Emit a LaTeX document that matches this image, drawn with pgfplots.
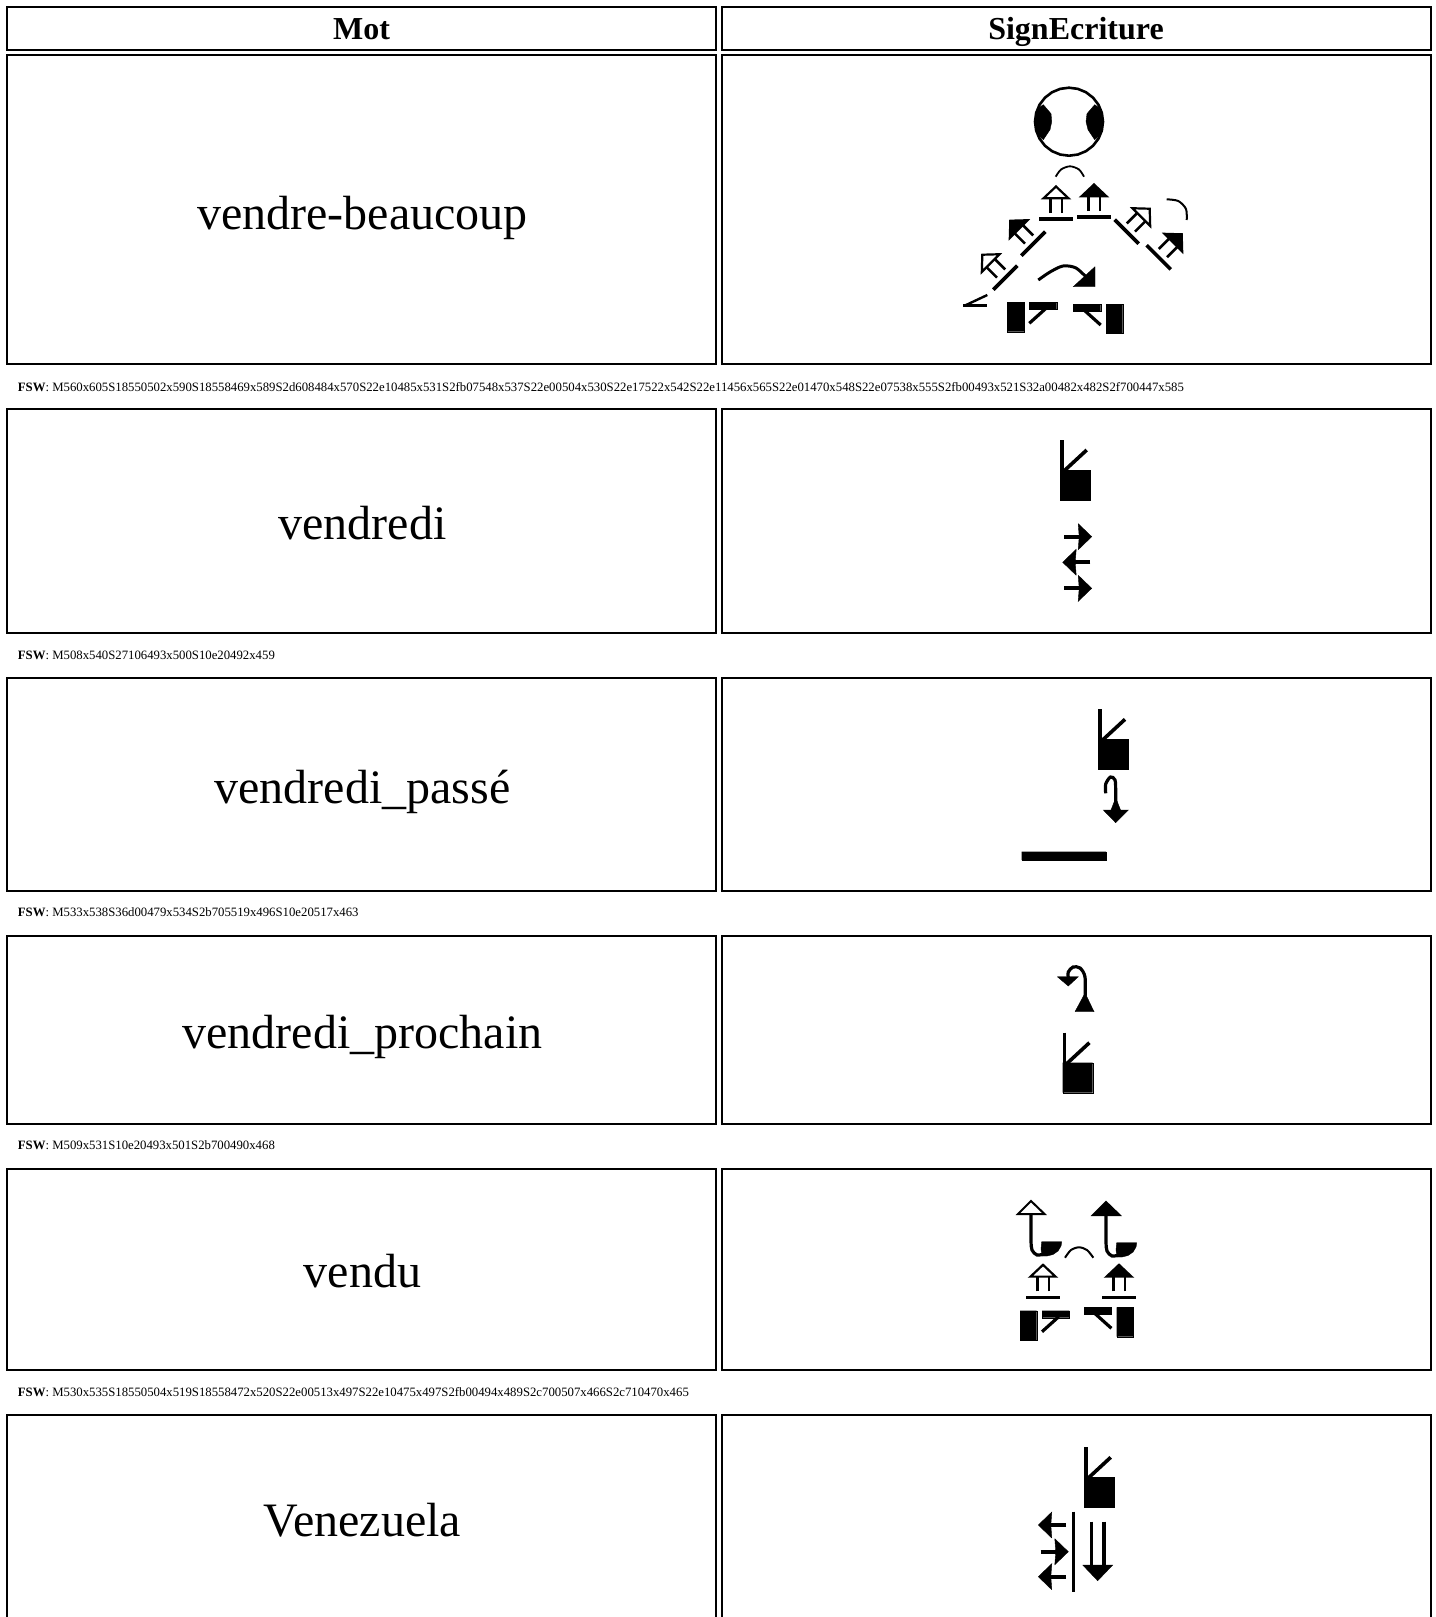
\documentclass[border=0pt]{standalone}
\usepackage{pgfplots}
\pgfplotsset{compat=1.18}
\usepackage{fontspec}
\setmainfont{Liberation Serif}
\pgfplotsset{
  T/.style n args={4}{
    x filter/.expression={#1+#4*(cos(#3)*rawx-sin(#3)*rawy)},
    y filter/.expression={#2+#4*(sin(#3)*rawx+cos(#3)*rawy)}},
  LN/.style={black,line width=#1},
  FL/.style={black,fill=black,line width=0.2pt}
}
% px = 0.5pt throughout
\newcommand{\cellbox}[4]{\addplot[LN=1pt] coordinates {(#1,#2)(#3,#2)(#3,#4)(#1,#4)(#1,#2)(#3,#2)};}
\newcommand{\rect}[4]{\addplot[FL] coordinates {(#1,#2)(#3,#2)(#3,#4)(#1,#4)(#1,#2)};}
\newcommand{\poly}[1]{\addplot[FL] coordinates {#1};}
\newcommand{\lin}[2]{\addplot[LN=#1] coordinates {#2};}
\newcommand{\curve}[2]{\addplot[LN=#1,smooth] coordinates {#2};}
% hand: upper-left corner of the square
\newcommand{\hand}[2]{%
  \addplot[FL,T={#1}{#2}{0}{1}] coordinates {(0,0)(30,0)(30,30)(0,30)(0,0)};
  \addplot[LN=1.8pt,T={#1}{#2}{0}{1}] coordinates {(1.8,-30)(1.8,0)};
  \addplot[LN=1.8pt,T={#1}{#2}{0}{1}] coordinates {(4,1)(26.7,-20)};}
% straight arrow with tip at x,y
\newcommand{\harrow}[3]{%
  \addplot[LN=1.9pt,T={#1}{#2}{#3}{1}] coordinates {(-27.7,0)(-8,0)};
  \addplot[FL,T={#1}{#2}{#3}{1}] coordinates {(-13.5,-13)(0,0)(-13.5,13)(-12.5,0)(-13.5,-13)};}
% arrow on bar, double stem
\newcommand{\barrow}[4]{%
  \addplot[LN=1.8pt,T={#1}{#2}{#3}{1}] coordinates {(-17,0)(17,0)};
  \addplot[LN=1.3pt,T={#1}{#2}{#3}{1}] coordinates {(-5.8,-6)(-5.8,-20.7)};
  \addplot[LN=1.3pt,T={#1}{#2}{#3}{1}] coordinates {(5.8,-6)(5.8,-20.7)};
  \addplot[black,fill=#4,line width=1.1pt,T={#1}{#2}{#3}{1}] coordinates {(-12.5,-20.7)(0,-32.5)(12.5,-20.7)(-12.5,-20.7)(0,-32.5)};}
% fists: upper-left corner of the rectangle
\newcommand{\fistL}[2]{%
  \addplot[FL,T={#1}{#2}{0}{1}] coordinates {(0,0)(16.7,0)(16.7,29.4)(0,29.4)(0,0)};
  \addplot[FL,T={#1}{#2}{0}{1}] coordinates {(22,0)(49.4,0)(49.4,7)(22,7)(22,0)};
  \addplot[LN=1.6pt,T={#1}{#2}{0}{1}] coordinates {(22,21)(38.7,6)};}
\newcommand{\fistR}[2]{%
  \addplot[FL,T={#1}{#2}{0}{1}] coordinates {(0,0)(16.7,0)(16.7,29.4)(0,29.4)(0,0)};
  \addplot[FL,T={#1}{#2}{0}{1}] coordinates {(-32.7,0)(-5.3,0)(-5.3,7)(-32.7,7)(-32.7,0)};
  \addplot[LN=1.6pt,T={#1}{#2}{0}{1}] coordinates {(-5.3,21)(-22,6)};}
% hook glyph of row 5
\newcommand{\hook}[3]{%
  \addplot[LN=1.6pt,smooth,T={#1}{#2}{0}{1}] coordinates {(1031,1214)(1031,1240)(1032,1250)(1037,1255)(1044,1254)};
  \addplot[black,fill=#3,line width=1pt,T={#1}{#2}{0}{1}] coordinates {(1018,1214)(1031,1201)(1044.5,1214)(1018,1214)(1031,1201)};
  \addplot[FL,T={#1}{#2}{0}{1}] coordinates {(1041.7,1241.7)(1061.7,1241.7)(1061,1246)(1058,1251)(1053,1254.5)(1047,1256)(1042,1256)(1041,1249)(1041.7,1241.7)};}
\newcommand{\word}[3]{\node[anchor=base,inner sep=0pt,font=\fontsize{24pt}{28pt}\selectfont] at (axis cs:#1,#2) {#3};}
\newcommand{\fsw}[2]{\node[anchor=base west,inner sep=0pt,font=\fontsize{6.38pt}{7pt}\selectfont] at (axis cs:17.5,#1) {\textbf{FSW}: #2};}
\begin{document}
\begin{tikzpicture}
\useasboundingbox (0,0) rectangle (717.5pt,808.5pt);
\begin{axis}[
  at={(0,0)}, anchor=south west,
  scale only axis, width=717.5pt, height=808.5pt,
  xmin=0, xmax=1435, ymin=0, ymax=1617, y dir=reverse,
  hide axis, clip=true]
% ---- table cells
\cellbox{7}{7}{716}{49.5}
\cellbox{721.5}{7}{1430.5}{49.5}
\cellbox{7}{55}{716}{364}
\cellbox{721.5}{55}{1430.5}{364}
\cellbox{7}{408.5}{716}{633}
\cellbox{721.5}{408.5}{1430.5}{633}
\cellbox{7}{677.5}{716}{890.5}
\cellbox{721.5}{677.5}{1430.5}{890.5}
\cellbox{7}{935.5}{716}{1123.5}
\cellbox{721.5}{935.5}{1430.5}{1123.5}
\cellbox{7}{1168.5}{716}{1370}
\cellbox{721.5}{1168.5}{1430.5}{1370}
\cellbox{7}{1415}{716}{1640}
\cellbox{721.5}{1415}{1430.5}{1640}
% ---- row 1 glyph
\addplot[LN=1.3pt,T={1069}{121.7}{0}{34}] coordinates {(1,0)(.966,.259)(.866,.5)(.707,.707)(.5,.866)(.259,.966)(0,1)(-.259,.966)(-.5,.866)(-.707,.707)(-.866,.5)(-.966,.259)(-1,0)(-.966,-.259)(-.866,-.5)(-.707,-.707)(-.5,-.866)(-.259,-.966)(0,-1)(.259,-.966)(.5,-.866)(.707,-.707)(.866,-.5)(.966,-.259)(1,0)(.966,.259)};
\addplot[FL,T={1069}{121.7}{0}{1}] coordinates {(-25.7,-17)(-30,-14)(-33,-8)(-34,0)(-33,8)(-30,14)(-25.7,18)(-19,8)(-17.3,0)(-18,-8)(-25.7,-17)};
\addplot[FL,T={1069}{121.7}{0}{1}] coordinates {(25.7,-17)(30,-14)(33,-8)(34,0)(33,8)(30,14)(25.7,18)(19,8)(17,0)(18,-8)(25.7,-17)};
\curve{0.9pt}{(1055.7,176.7)(1061,169.5)(1070,166.3)(1079,169.5)(1084,176.7)}
\barrow{1056}{219}{0}{white}
\barrow{1094}{217}{0}{black}
\barrow{1033.3}{243.7}{-45}{black}
\barrow{1005.3}{277.7}{-45}{white}
\barrow{1126.7}{231.7}{45}{white}
\barrow{1158.7}{257.3}{45}{black}
\curve{1pt}{(1166.7,199.3)(1178.3,201)(1186,209)(1186.7,220)}
\curve{1.5pt}{(1038.3,280)(1050,272)(1063,266)(1076,268)(1088,279)}
\poly{(1095,266.7)(1095,286.7)(1073.3,286.7)(1095,266.7)}
\lin{1.2pt}{(987.3,295)(965,305.5)}
\lin{1.8pt}{(963.3,305.5)(987.3,305.5)}
\fistL{1007.3}{302.3}
\fistR{1106}{304}
% ---- row 2 glyph
\hand{1060}{470}
\harrow{1091.7}{536.7}{0}
\harrow{1062.7}{562.3}{180}
\harrow{1091.7}{588.3}{0}
% ---- row 3 glyph
\hand{1098.3}{739.3}
\addplot[LN=1.6pt,smooth] coordinates {(1105.7,793.3)(1105.7,784)(1110.5,777)(1115,780)(1115.7,792)(1115.7,812)};
\poly{(1115.7,822.7)(1103.3,810)(1111,810)(1114.5,801)(1117,801)(1120.5,810)(1128.3,810)(1115.7,822.7)}
\rect{1021.7}{851.7}{1106}{860}
% ---- row 4 glyph
\addplot[LN=1.6pt,smooth] coordinates {(1085,1000)(1085,977)(1080,968)(1073,967)(1068.3,972)(1068.3,978)};
\poly{(1075,1011.7)(1094,1011.7)(1086,995)(1084,995)(1075,1011.7)}
\poly{(1057.3,976.7)(1078.3,976.7)(1068.3,986)(1057.3,976.7)}
\hand{1062.7}{1062.7}
% ---- row 5 glyph
\hook{0}{0}{white}
\hook{75}{1}{black}
\curve{1pt}{(1065,1257.7)(1071,1250)(1079,1247.3)(1087,1250)(1093.3,1257.7)}
\barrow{1043}{1297.3}{0}{white}
\barrow{1119}{1297.3}{0}{black}
\fistL{1020}{1310.7}
\fistR{1116.7}{1307.3}
% ---- row 6 glyph
\hand{1084}{1477.3}
\lin{1.8pt}{(1073.3,1511.7)(1073.3,1591.7)}
\harrow{1038.3}{1525}{180}
\harrow{1068.3}{1551.7}{0}
\harrow{1038.3}{1576.7}{180}
\lin{1.7pt}{(1091.7,1521.7)(1091.7,1568)}
\lin{1.7pt}{(1104,1521.7)(1104,1568)}
\poly{(1082.7,1565)(1112.7,1565)(1097.7,1580.7)(1082.7,1565)}
% ---- text
\node[anchor=base,inner sep=0pt,font=\fontsize{16pt}{18pt}\selectfont\bfseries] at (axis cs:361.5,39.5) {Mot};
\node[anchor=base,inner sep=0pt,font=\fontsize{16pt}{18pt}\selectfont\bfseries] at (axis cs:1076,39.5) {SignEcriture};
\word{362.5}{229}{vendre-beaucoup}
\word{362.5}{539}{vendredi}
\word{362.5}{803.5}{vendredi\_passé}
\word{362.5}{1048}{vendredi\_prochain}
\word{362.5}{1287}{vendu}
\word{362.5}{1536}{Venezuela}
\fsw{391}{M560x605S18550502x590S18558469x589S2d608484x570S22e10485x531S2fb07548x537S22e00504x530S22e17522x542S22e11456x565S22e01470x548S22e07538x555S2fb00493x521S32a00482x482S2f700447x585}
\fsw{659}{M508x540S27106493x500S10e20492x459}
\fsw{916}{M533x538S36d00479x534S2b705519x496S10e20517x463}
\fsw{1149}{M509x531S10e20493x501S2b700490x468}
\fsw{1396}{M530x535S18550504x519S18558472x520S22e00513x497S22e10475x497S2fb00494x489S2c700507x466S2c710470x465}
\end{axis}
\end{tikzpicture}
\end{document}
